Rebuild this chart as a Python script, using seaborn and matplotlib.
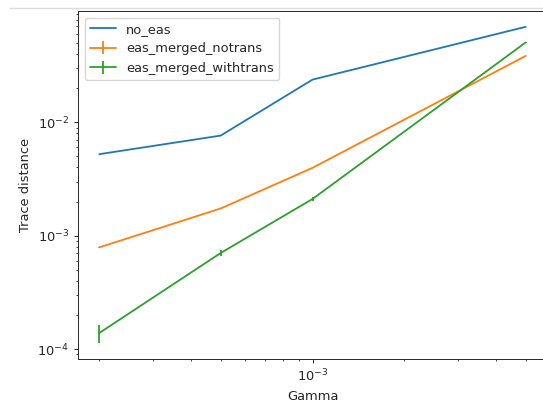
import numpy as np
import pandas as pd
import matplotlib
matplotlib.use("Agg")
import matplotlib.pyplot as plt
from matplotlib.lines import Line2D
import seaborn as sns

# values
gamma = [2e-4, 5e-4, 1e-3, 5e-3]
no_eas = [5.24e-3, 7.64e-3, 2.38e-2, 6.95e-2]
notrans = [7.9e-4, 1.74e-3, 3.97e-3, 3.85e-2]
notrans_err = [1e-5, 2e-5, 4e-5, 3e-4]
withtrans = [1.39e-4, 7.05e-4, 2.11e-3, 5.06e-2]
withtrans_err = [2.6e-5, 4.5e-5, 8e-5, 3e-4]

sns.set_style("ticks")
plt.rcParams.update({
    "font.family": ["DejaVu Sans"],
    "font.size": 9.4,
    "axes.linewidth": 0.7,
    "lines.linewidth": 1.3,
    "xtick.major.size": 3,
    "ytick.major.size": 3,
    "xtick.minor.size": 1.7,
    "ytick.minor.size": 1.7,
    "xtick.major.width": 0.7,
    "ytick.major.width": 0.7,
    "xtick.minor.width": 0.6,
    "ytick.minor.width": 0.6,
    "xtick.direction": "out",
    "ytick.direction": "out",
})

fig = plt.figure(figsize=(5.43, 4.09), dpi=100)
W, H = 543, 409
ax = fig.add_axes([78 / W, 1 - 359 / H, 469 / W, 348 / H])

df = pd.DataFrame({"gamma": gamma, "dist": no_eas})
sns.lineplot(data=df, x="gamma", y="dist", ax=ax, color="C0", label="no_eas")
ax.errorbar(gamma, notrans, yerr=notrans_err, color="C1", label="eas_merged_notrans")
ax.errorbar(gamma, withtrans, yerr=withtrans_err, color="C2", label="eas_merged_withtrans")

ax.set_xscale("log")
ax.set_yscale("log")
ax.set_xlabel("Gamma")
ax.set_ylabel("Trace distance")
for s in ax.spines.values():
    s.set_visible(True)
ax.legend(loc="upper left", fontsize=9.4)

# thin separator line at the top of the screenshot
fig.add_artist(Line2D([10 / W, 1], [1 - 8 / H, 1 - 8 / H], color="#dddddd", lw=1))

fig.savefig("out.png", dpi=100)
